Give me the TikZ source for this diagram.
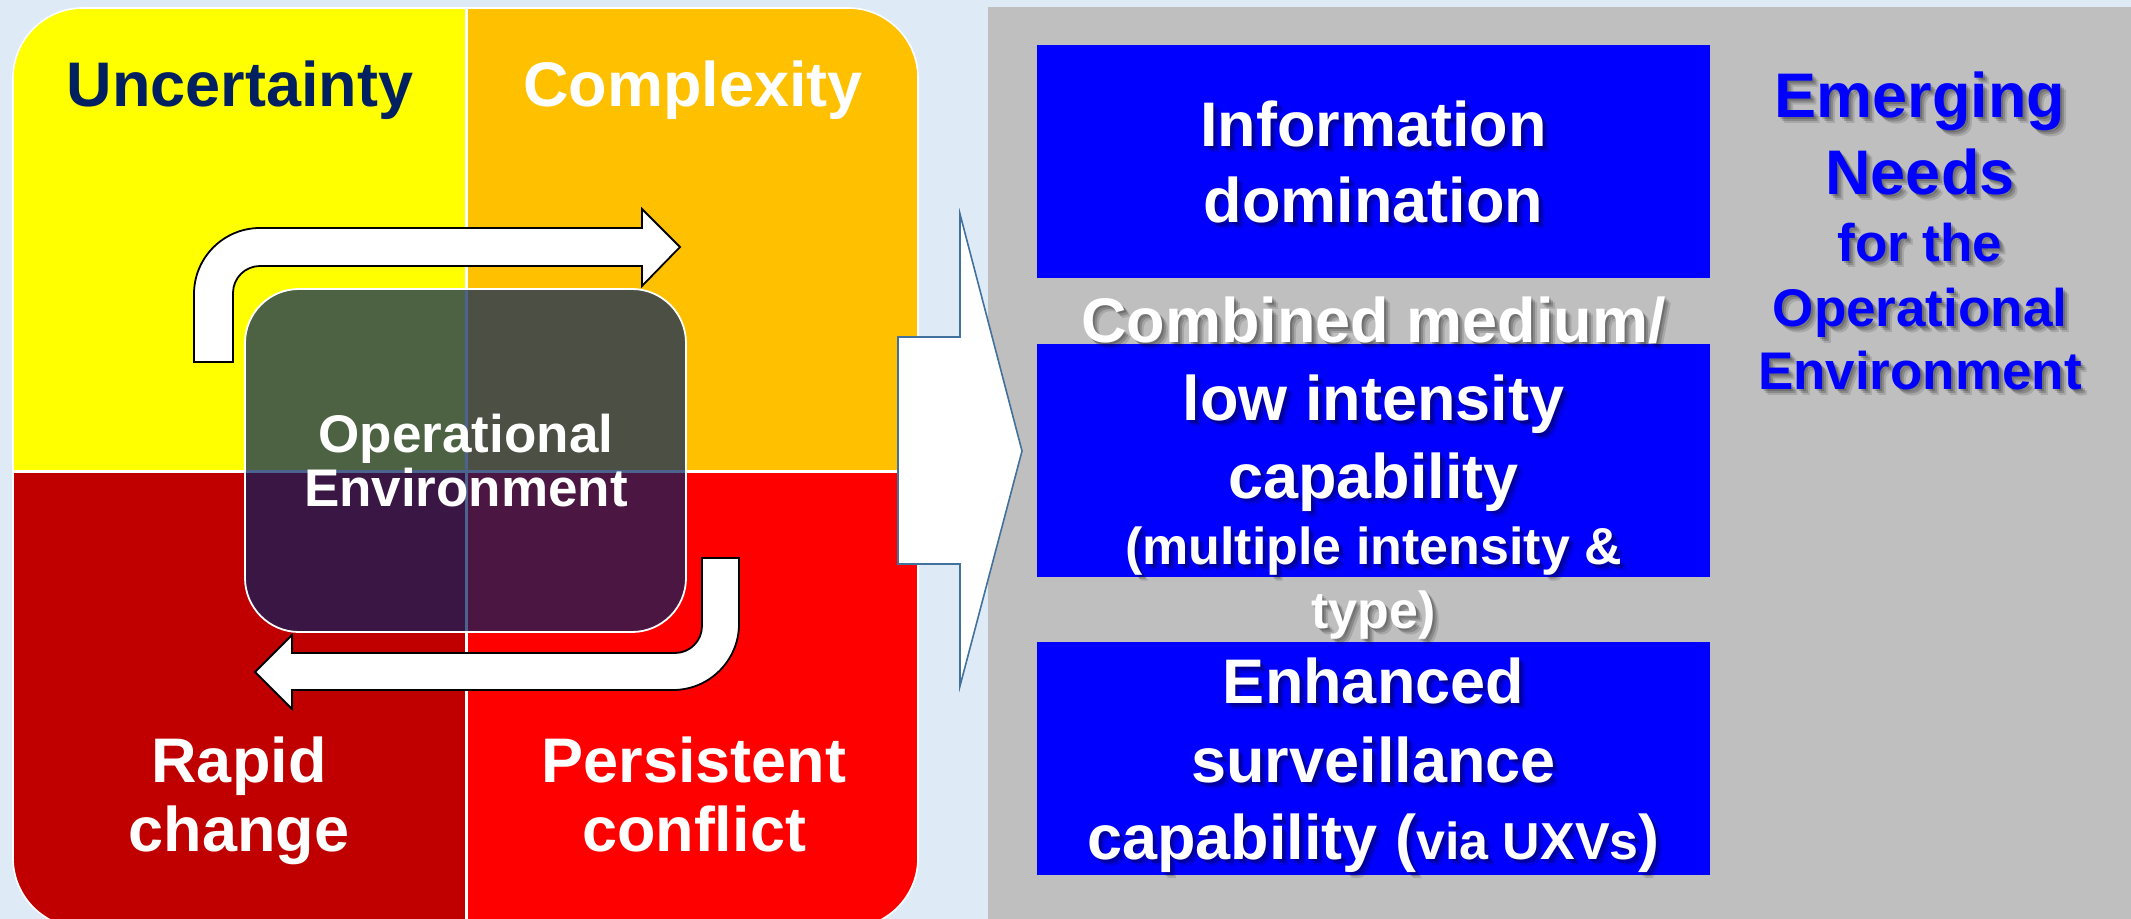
\documentclass[tikz,border=0pt]{standalone}
\usepackage{fontspec}
\setmainfont{Liberation Sans}
\definecolor{bgblue}{HTML}{DEEBF7}
\definecolor{qyel}{HTML}{FFFF00}
\definecolor{qora}{HTML}{FFC000}
\definecolor{qdred}{HTML}{C00000}
\definecolor{qred}{HTML}{FF0000}
\definecolor{navy}{HTML}{002060}
\definecolor{panelgray}{HTML}{BFBFBF}
\definecolor{boxblue}{HTML}{0000FF}
\definecolor{needblue}{HTML}{0000FF}
\definecolor{arrowline}{HTML}{41719C}
\newcommand\fsz[1]{\fontsize{#1}{#1}\selectfont\bfseries}
\tikzset{
  txt/.style={anchor=base, inner sep=0pt, outer sep=0pt},
  bluebox/.style={fill=boxblue, draw=none, minimum width=336.5pt, minimum height=116.5pt, inner sep=0pt},
  whitearrow/.style={fill=white, draw=black, line width=0.9pt, line join=miter},
}
% name, x, y, size, colour, text
\newcommand\sline[6]{%
  \node[txt, text=black, text opacity=0.18, font=\fsz{#4}] (#1sa) at (#2+2,#3+2) {#6};
  \node[txt, text=black, text opacity=0.18, font=\fsz{#4}] (#1sb) at (#2+4,#3+4) {#6};
  \node[txt, text=black, text opacity=0.12, font=\fsz{#4}] (#1sc) at (#2+6,#3+6) {#6};
  \node[txt, text=#5, font=\fsz{#4}] (#1) at (#2,#3) {#6};}
\newcommand\pline[6]{%
  \node[txt, text=#5, font=\fsz{#4}] (#1) at (#2,#3) {#6};}
\begin{document}
\begin{tikzpicture}[x=0.5pt, y=-0.5pt]
\useasboundingbox (0,0) rectangle (2131,919);
\fill[bgblue] (0,0) rectangle (2131,919);
% left quadrant square
\begin{scope}
  \clip[rounded corners=35pt] (13,8) rectangle (918,928);
  \fill[qyel] (13,8) rectangle (466,472);
  \fill[qora] (466,8) rectangle (918,472);
  \fill[qdred] (13,472) rectangle (466,928);
  \fill[qred] (466,472) rectangle (918,928);
  \draw[white, line width=1.5pt] (466,8) -- (466,928);
  \draw[white, line width=1.5pt] (13,472) -- (918,472);
\end{scope}
\draw[white, line width=0.8pt, rounded corners=35pt] (13,8) rectangle (918,928);
% quadrant labels
\pline{unc}{240}{107}{31.5}{navy}{Uncertainty}
\pline{cpx}{693}{107}{31.5}{white}{Complexity}
\pline{rap}{239}{782}{31.5}{white}{Rapid}
\pline{chg}{239}{851}{31.5}{white}{change}
\pline{per}{694}{782}{31.5}{white}{Persistent}
\pline{con}{694}{851}{31.5}{white}{conflict}
% cycle arrows
\draw[whitearrow] (194,362) -- (194,294) .. controls (194,257.6) and (223.6,228) .. (260,228)
  -- (642,228) -- (642,209) -- (680,247) -- (642,286) -- (642,266) -- (260,266)
  .. controls (245.1,266) and (233,278.1) .. (233,293) -- (233,362) -- cycle;
\draw[whitearrow] (739,558) -- (739,624) .. controls (739,660.4) and (709.4,690) .. (673,690)
  -- (292,690) -- (292,709) -- (255,672) -- (292,635) -- (292,653) -- (675,653)
  .. controls (689.9,653) and (702,640.9) .. (702,626) -- (702,558) -- cycle;
% central box
\node[draw=white, line width=0.9pt, fill=navy, fill opacity=0.7, rounded corners=27pt,
  minimum width=220.5pt, minimum height=171.5pt, inner sep=0pt] (oe) at (465.5,460.5) {};
\pline{oe1}{466}{452}{26.5}{white}{Operational}
\pline{oe2}{466}{506}{26.5}{white}{Environment}
% grey panel
\fill[panelgray] (988,7) rectangle (2131,919);
% big arrow
\draw[fill=white, draw=arrowline, line width=0.8pt] (898,337) -- (960,337) -- (960,214)
  -- (1022,451) -- (960,686) -- (960,564) -- (898,564) -- cycle;
% blue boxes
\node[bluebox] (b1) at (1373.5,161.5) {};
\node[bluebox] (b2) at (1373.5,460.5) {};
\node[bluebox] (b3) at (1373.5,758.5) {};
\sline{i1}{1373.5}{146.5}{31.5}{white}{Information}
\sline{i2}{1373.5}{223}{31.5}{white}{domination}
\sline{c1}{1373.5}{343}{31.5}{white}{Combined medium/}
\sline{c2}{1373.5}{421}{31.5}{white}{low intensity}
\sline{c3}{1373.5}{498}{31.5}{white}{capability}
\sline{c4}{1373.5}{564}{26}{white}{(multiple intensity \&}
\sline{c5}{1373.5}{628}{26}{white}{type)}
\sline{e1}{1373.5}{703}{31.5}{white}{Enhanced}
\sline{e2}{1373.5}{782}{31.5}{white}{surveillance}
\sline{e3}{1373.5}{859}{31.5}{white}{capability (\fsz{26}via UXVs\fsz{31.5})}
% right title
\sline{n1}{1920}{118}{31.5}{needblue}{Emerging}
\sline{n2}{1920}{195}{31.5}{needblue}{Needs}
\sline{n3}{1920}{262}{26.5}{needblue}{for the}
\sline{n4}{1920}{327}{26.5}{needblue}{Operational}
\sline{n5}{1920}{390}{26.5}{needblue}{Environment}
\end{tikzpicture}
\end{document}
